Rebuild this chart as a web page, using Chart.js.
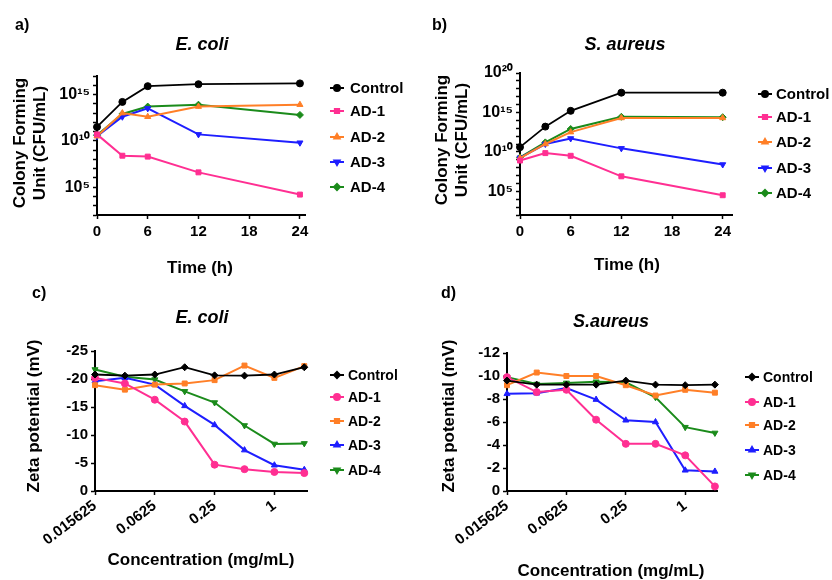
<!DOCTYPE html>
<html>
<head>
<meta charset="utf-8">
<script src="https://cdn.jsdelivr.net/npm/chart.js@4.4.1/dist/chart.umd.min.js"></script>
<style>
  body { margin: 0; background: #fff; }
  #wrap { position: relative; width: 832px; height: 580px; }
  canvas { position: absolute; }
</style>
</head>
<body>
<div id="wrap">
  <canvas id="pa" width="416" height="280" style="left:0;top:0"></canvas>
  <canvas id="pb" width="416" height="280" style="left:416px;top:0"></canvas>
  <canvas id="pc" width="416" height="300" style="left:0;top:280px"></canvas>
  <canvas id="pd" width="416" height="300" style="left:416px;top:280px"></canvas>
</div>
<script>
// ---- data ----
const seriesNames = ['Control', 'AD-1', 'AD-2', 'AD-3', 'AD-4'];
const seriesColors = ['#000000', '#ff2f92', '#ff7f27', '#1e1eff', '#1b8b1b'];

const timeH = [0, 3, 6, 12, 24];
const timeTicks = [0, 6, 12, 18, 24];

// CFU/mL, E. coli
const ecoliControl = [3.2e11, 1.6e14, 8e15, 1.3e16, 1.6e16];
const ecoliAD1 = [5e10, 2.5e8, 2e8, 4e6, 1.6e4];
const ecoliAD2 = [3.2e10, 1e13, 4e12, 5e13, 8e13];
const ecoliAD3 = [3.2e10, 4e12, 3.2e13, 5e10, 6.3e9];
const ecoliAD4 = [4e10, 8e12, 5e13, 8e13, 6.3e12];

// CFU/mL, S. aureus
const saurControl = [4e10, 1.6e13, 1.6e15, 3.2e17, 3.2e17];
const saurAD1 = [8e8, 7e9, 3.2e9, 8e6, 3.2e4];
const saurAD2 = [1.6e9, 1e11, 3.2e12, 2e14, 2e14];
const saurAD3 = [1.8e9, 1e11, 5e11, 2.8e10, 2.5e8];
const saurAD4 = [2e9, 1.6e11, 8e12, 2.8e14, 2.5e14];

const concentrations = [0.015625, 0.03125, 0.0625, 0.125, 0.25, 0.5, 1, 2];
const concTicks = [0.015625, 0.0625, 0.25, 1];

// zeta potential (mV), E. coli
const zEcoliControl = [-20.8, -20.6, -20.8, -22.1, -20.65, -20.6, -20.8, -22.1];
const zEcoliAD1 = [-20.2, -19.2, -16.3, -12.4, -4.7, -3.9, -3.4, -3.2];
const zEcoliAD2 = [-18.9, -18.1, -19.0, -19.2, -19.8, -22.4, -20.2, -22.3];
const zEcoliAD3 = [-19.6, -20.2, -19.0, -15.2, -11.8, -7.3, -4.6, -3.8];
const zEcoliAD4 = [-21.7, -20.4, -19.9, -17.8, -15.8, -11.7, -8.4, -8.5];

// zeta potential (mV), S. aureus
const zSaurControl = [-9.6, -9.25, -9.25, -9.25, -9.6, -9.25, -9.2, -9.25];
const zSaurAD1 = [-9.9, -8.6, -8.8, -6.2, -4.1, -4.1, -3.1, -0.4];
const zSaurAD2 = [-9.2, -10.3, -10.0, -10.0, -9.2, -8.3, -8.8, -8.55];
const zSaurAD3 = [-8.45, -8.5, -8.95, -7.95, -6.15, -6.0, -1.8, -1.7];
const zSaurAD4 = [-9.9, -9.3, -9.4, -9.5, -9.45, -8.15, -5.55, -5.05];

// ---- style helpers ----
const FONT = 'Arial, "Liberation Sans", sans-serif';
const cfuMarkers = [['circle', 0], ['rect', 0], ['triangle', 0], ['triangle', 180], ['rectRot', 0]];
const zetaMarkers = [['rectRot', 0], ['circle', 0], ['rect', 0], ['triangle', 0], ['triangle', 180]];

const SUP = '⁰¹²³⁴⁵⁶⁷⁸⁹';
const supText = n => String(n).split('').map(d => SUP[+d]).join('');

function makeDatasets(xs, series, markers) {
    return series.map((vals, i) => ({
        label: seriesNames[i],
        data: xs.map((x, j) => ({ x, y: vals[j] })),
        borderColor: seriesColors[i],
        backgroundColor: seriesColors[i],
        borderWidth: i === 0 ? 1.8 : 2,
        pointStyle: markers[i][0],
        pointRotation: markers[i][1],
        pointRadius: 3.5,
        pointBorderWidth: 1,
        tension: 0,
        clip: false
    }));
}

// panel letters, titles, axis titles and the side legend, placed in page coordinates
const textPlugin = {
    id: 'panelText',
    afterDraw(chart, args, opts) {
        const ctx = chart.ctx;
        const ox = opts.offset[0], oy = opts.offset[1];
        ctx.save();
        (opts.texts || []).forEach(t => {
            ctx.save();
            ctx.fillStyle = '#000';
            ctx.font = t.font;
            ctx.textAlign = t.align || 'center';
            ctx.textBaseline = t.baseline || 'middle';
            ctx.translate(t.x - ox, t.y - oy);
            if (t.rotate) ctx.rotate(t.rotate);
            ctx.fillText(t.text, 0, 0);
            ctx.restore();
        });
        const lg = opts.legend;
        ctx.textBaseline = 'middle';
        chart.data.datasets.forEach((ds, i) => {
            const x = lg.x - ox, y = lg.ys[i] - oy;
            ctx.strokeStyle = ds.borderColor;
            ctx.fillStyle = ds.borderColor;
            ctx.lineWidth = 2;
            ctx.beginPath();
            ctx.moveTo(x - 7, y);
            ctx.lineTo(x + 7, y);
            ctx.stroke();
            Chart.helpers.drawPoint(ctx, {
                pointStyle: ds.pointStyle, rotation: ds.pointRotation,
                radius: 3, borderWidth: 1
            }, x, y);
            ctx.fillStyle = '#000';
            ctx.font = lg.font;
            ctx.textAlign = 'left';
            ctx.fillText(ds.label, x + lg.gap, y + 1);
        });
        ctx.restore();
    }
};

function axisCommon(tickFont) {
    return {
        grid: { drawOnChartArea: false, drawTicks: true, tickLength: 4, color: '#000', tickWidth: 1.5 },
        border: { color: '#000', width: 2 },
        ticks: { color: '#000', font: tickFont }
    };
}

function makePanel(id, p) {
    const cv = document.getElementById(id);
    const W = cv.width, H = cv.height;
    const ox = p.offset[0], oy = p.offset[1];
    const xc = axisCommon(p.xFont), yc = axisCommon(p.yFont);
    new Chart(cv, {
        type: 'line',
        data: { datasets: p.datasets },
        options: {
            responsive: false,
            animation: false,
            layout: { padding: { top: p.area.top - oy, right: W - (p.area.right - ox), left: 0, bottom: 0 } },
            scales: {
                x: Object.assign({}, xc, p.x, {
                    ticks: Object.assign({}, xc.ticks, p.x.ticks),
                    afterFit: s => { s.height = H - (p.area.bottom - oy); }
                }),
                y: Object.assign({}, yc, p.y, {
                    ticks: Object.assign({}, yc.ticks, p.y.ticks),
                    afterFit: s => { s.width = p.area.left - ox; }
                })
            },
            plugins: {
                legend: { display: false },
                tooltip: { enabled: false },
                panelText: { offset: p.offset, texts: p.texts, legend: p.legend }
            }
        },
        plugins: [textPlugin]
    });
}

function logYAxis(minExp, maxExp) {
    const exps = [];
    for (let e = minExp; e <= maxExp; e++) exps.push(e);
    return {
        type: 'logarithmic',
        min: Math.pow(10, minExp),
        max: Math.pow(10, maxExp),
        afterBuildTicks: s => { s.ticks = exps.map(e => ({ value: Math.pow(10, e) })); },
        ticks: {
            padding: 3,
            autoSkip: false,
            callback: v => {
                const e = Math.round(Math.log10(v));
                return e % 5 === 0 ? '10' + supText(e) : '';
            }
        }
    };
}

function timeXAxis(max) {
    return {
        type: 'linear',
        min: 0,
        max: max,
        afterBuildTicks: s => { s.ticks = timeTicks.map(v => ({ value: v })); },
        ticks: { padding: 4, maxRotation: 0 }
    };
}

function concXAxis(max) {
    return {
        type: 'logarithmic',
        min: concentrations[0],
        max: max,
        afterBuildTicks: s => { s.ticks = concTicks.map(v => ({ value: v })); },
        ticks: { padding: 2, minRotation: 37, maxRotation: 37, autoSkip: false, callback: v => String(v) }
    };
}

function zetaYAxis(min, step) {
    return {
        type: 'linear',
        min: min,
        max: 0,
        reverse: true,
        ticks: { stepSize: step, padding: 3 }
    };
}

const bold = s => 'bold ' + s + 'px ' + FONT;
const boldIt = s => 'italic bold ' + s + 'px ' + FONT;
const UP = -Math.PI / 2;

makePanel('pa', {
    offset: [0, 0],
    area: { left: 97, top: 76, right: 305, bottom: 215 },
    x: timeXAxis(24.6),
    y: logYAxis(2, 17),
    xFont: { family: FONT, size: 15, weight: 'bold' },
    yFont: { family: FONT, size: 16, weight: 'bold' },
    datasets: makeDatasets(timeH, [ecoliControl, ecoliAD1, ecoliAD2, ecoliAD3, ecoliAD4], cfuMarkers),
    texts: [
        { text: 'a)', x: 15, y: 30, font: bold(16), align: 'left', baseline: 'alphabetic' },
        { text: 'E. coli', x: 202, y: 45, font: boldIt(18) },
        { text: 'Colony Forming', x: 20, y: 143, font: bold(17), rotate: UP },
        { text: 'Unit (CFU/mL)', x: 40, y: 143, font: bold(17), rotate: UP },
        { text: 'Time (h)', x: 200, y: 268, font: bold(17) }
    ],
    legend: { x: 337, ys: [88, 111, 137, 162, 187], gap: 13, font: bold(15) }
});

makePanel('pb', {
    offset: [416, 0],
    area: { left: 520, top: 73, right: 732, bottom: 215 },
    x: timeXAxis(25.1),
    y: logYAxis(2, 20),
    xFont: { family: FONT, size: 15, weight: 'bold' },
    yFont: { family: FONT, size: 16, weight: 'bold' },
    datasets: makeDatasets(timeH, [saurControl, saurAD1, saurAD2, saurAD3, saurAD4], cfuMarkers),
    texts: [
        { text: 'b)', x: 432, y: 30, font: bold(16), align: 'left', baseline: 'alphabetic' },
        { text: 'S. aureus', x: 625, y: 45, font: boldIt(18) },
        { text: 'Colony Forming', x: 442, y: 140, font: bold(17), rotate: UP },
        { text: 'Unit (CFU/mL)', x: 462, y: 140, font: bold(17), rotate: UP },
        { text: 'Time (h)', x: 627, y: 265, font: bold(17) }
    ],
    legend: { x: 765, ys: [94, 117, 142, 168, 193], gap: 11, font: bold(15) }
});

makePanel('pc', {
    offset: [0, 280],
    area: { left: 95, top: 351, right: 307, bottom: 491 },
    x: concXAxis(2.13),
    y: zetaYAxis(-25, 5),
    xFont: { family: FONT, size: 15, weight: 'bold' },
    yFont: { family: FONT, size: 15, weight: 'bold' },
    datasets: makeDatasets(concentrations, [zEcoliControl, zEcoliAD1, zEcoliAD2, zEcoliAD3, zEcoliAD4], zetaMarkers),
    texts: [
        { text: 'c)', x: 32, y: 298, font: bold(16), align: 'left', baseline: 'alphabetic' },
        { text: 'E. coli', x: 202, y: 318, font: boldIt(18) },
        { text: 'Zeta potential (mV)', x: 34, y: 416, font: bold(17), rotate: UP },
        { text: 'Concentration (mg/mL)', x: 201, y: 560, font: bold(17) }
    ],
    legend: { x: 337, ys: [375, 397, 421, 445, 470], gap: 11, font: bold(14) }
});

makePanel('pd', {
    offset: [416, 280],
    area: { left: 507, top: 353, right: 717, bottom: 491 },
    x: concXAxis(2.1),
    y: zetaYAxis(-12, 2),
    xFont: { family: FONT, size: 15, weight: 'bold' },
    yFont: { family: FONT, size: 15, weight: 'bold' },
    datasets: makeDatasets(concentrations, [zSaurControl, zSaurAD1, zSaurAD2, zSaurAD3, zSaurAD4], zetaMarkers),
    texts: [
        { text: 'd)', x: 441, y: 298, font: bold(16), align: 'left', baseline: 'alphabetic' },
        { text: 'S.aureus', x: 611, y: 322, font: boldIt(18) },
        { text: 'Zeta potential (mV)', x: 449, y: 416, font: bold(17), rotate: UP },
        { text: 'Concentration (mg/mL)', x: 611, y: 571, font: bold(17) }
    ],
    legend: { x: 752, ys: [377, 402, 425, 450, 475], gap: 11, font: bold(14) }
});
</script>
</body>
</html>
